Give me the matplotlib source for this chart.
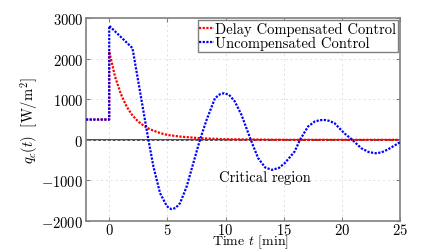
import matplotlib
matplotlib.use("Agg")
import matplotlib.pyplot as plt

plt.rcParams.update({
    "font.family": "serif",
    "font.serif": ["cmr10"],
    "mathtext.fontset": "cm",
    "axes.formatter.use_mathtext": True,
    "font.size": 10.5,
})

# uncompensated control
t_unc = [-2, 0, 0, 2.0, 3.37, 3.8, 4.37, 4.94, 5.15, 5.37, 5.7, 6.09, 6.66, 7.23, 7.8, 8.37,
         9.09, 9.5, 9.88, 10.3, 10.8, 11.37, 12.17, 12.8, 13.4, 14.0, 14.6, 15.09, 15.94,
         16.4, 17.1, 17.66, 18.1, 18.5, 18.9, 19.37, 20.2, 20.9, 21.66, 22.3, 22.9, 23.4,
         23.9, 25.0]
q_unc = [500, 500, 2810, 2260, 0, -657, -1313, -1625, -1685, -1707, -1680, -1560, -1150,
         -574, 0, 490, 1025, 1120, 1150, 1110, 945, 615, 0, -450, -680, -740, -690, -575,
         -288, 0, 330, 450, 485, 490, 470, 410, 165, 0, -205, -300, -330, -310, -245, -60]

# delay compensated control
t_comp = [-2, 0, 0, 0.5, 1.0, 1.5, 2.0, 2.5, 3.0, 3.5, 4.4, 5.0, 6.1, 7.8, 10, 15, 25]
q_comp = [500, 500, 2175, 1560, 1130, 820, 600, 450, 340, 260, 165, 120, 80, 40, 15, 0, 0]

fig = plt.figure(figsize=(4.43, 2.51), dpi=100)
ax = fig.add_axes([0.194, 0.1155, 0.709, 0.8085])

dots = (0, (1.0, 0.65))
ax.axhline(0, color="#404040", linewidth=1.3, zorder=1)
ax.plot(t_comp, q_comp, color="r", linestyle=dots, linewidth=1.6, label="Delay Compensated Control", zorder=2)
ax.plot(t_unc, q_unc, color="b", linestyle=dots, linewidth=1.6, label="Uncompensated Control", zorder=3)

ax.text(9.4, -920, "Critical region", ha="left", va="center", fontsize=10.5)

ax.set_xlim(-2, 25)
ax.set_ylim(-2000, 3000)
ax.set_xticks([0, 5, 10, 15, 20, 25])
ax.set_yticks([-2000, -1000, 0, 1000, 2000, 3000])
ax.grid(True, linestyle=(0, (2, 3)), color="#e0e0e0", linewidth=0.7)
ax.tick_params(direction="in", top=True, right=True, color="#808080", length=3, pad=2)
ax.tick_params(axis="x", pad=1)
for s in ax.spines.values():
    s.set_color("#808080")
    s.set_linewidth(1.2)

ax.set_xlabel("Time $t$ [min]", labelpad=0, fontsize=10)
ax.xaxis.label.set_va("center")
ax.xaxis.set_label_coords(0.525, -0.1)
ax.set_ylabel(r"$q_c(t)\ \ [\mathrm{W}/\mathrm{m}^2]$")
ax.yaxis.set_label_coords(-0.145, 0.5)

leg = ax.legend(loc="upper right", fancybox=False, edgecolor="#808080", framealpha=1,
                handlelength=1.0, handletextpad=0.1, borderpad=0.1, labelspacing=0.0,
                borderaxespad=0.15, fontsize=10.5)
leg.get_frame().set_linewidth(1.0)

plt.savefig("out.png", dpi=100)
